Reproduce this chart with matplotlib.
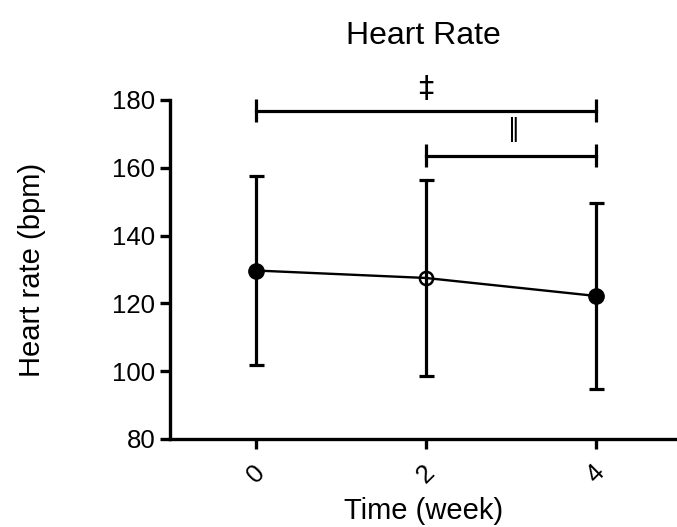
import matplotlib
matplotlib.use("Agg")
import matplotlib.pyplot as plt

plt.rcParams['font.family'] = ['Liberation Sans', 'DejaVu Sans']

weeks = [0, 2, 4]
tick_labels = ["0", "2", "4"]
hr_mean = [129.7, 127.5, 122.2]
hr_sd = [27.8, 28.8, 27.4]
marker_filled = [True, False, True]

brackets = [(0, 4, 176.8, "\u2021"), (2, 4, 163.5, "\u2016")]

fig = plt.figure(figsize=(6.77, 5.27), dpi=100)
ax = fig.add_axes([170/677, (527-439)/527, 1 - 170/677, (439-100)/527])

ax.errorbar(weeks, hr_mean, yerr=hr_sd, fmt='none', ecolor='black',
            elinewidth=2.3, capsize=5.4, capthick=2.3, zorder=3)
ax.plot(weeks, hr_mean, color='black', lw=1.7, zorder=3)
for x, y, f in zip(weeks, hr_mean, marker_filled):
    if f:
        ax.plot([x], [y], marker='o', ms=11, mfc='black', mec='black', zorder=4)
    else:
        ax.plot([x], [y], marker='o', ms=9.5, mfc='white', mec='black', mew=1.8, zorder=2)

sym_sizes = {"\u2021": 22, "\u2016": 17}
sym_offsets = {"\u2021": 2.3, "\u2016": 4.2}
for x0, x1, y, sym in brackets:
    ax.plot([x0, x1], [y, y], color='black', lw=2.3, clip_on=False, zorder=3)
    for xx in (x0, x1):
        ax.plot([xx, xx], [y - 3.4, y + 3.4], color='black', lw=2.3,
                clip_on=False, zorder=3, solid_capstyle='butt')
    xm = (x0 + x1) / 2 if sym == "\u2021" else 3.03
    ax.text(xm, y + sym_offsets[sym], sym, ha='center', va='bottom',
            fontsize=sym_sizes[sym], family=['DejaVu Sans'])

ax.set_xlim(-1.01, 4.955)
ax.set_ylim(80, 180)
ax.set_yticks([80, 100, 120, 140, 160, 180])
ax.set_xticks(weeks)
ax.set_xticklabels(tick_labels, rotation=45, ha='center', va='top')
for s in ('top', 'right'):
    ax.spines[s].set_visible(False)
for s in ('left', 'bottom'):
    ax.spines[s].set_linewidth(2.4)
ax.tick_params(axis='both', width=2.4, length=7.5, labelsize=18.5, pad=3)
ax.tick_params(axis='x', pad=8)

ax.set_title("Heart Rate", fontsize=23, pad=40)
ax.set_ylabel("Heart rate (bpm)", fontsize=21, labelpad=48)
ax.set_xlabel("Time (week)", fontsize=21, labelpad=7)

fig.savefig("out.png", dpi=100)
